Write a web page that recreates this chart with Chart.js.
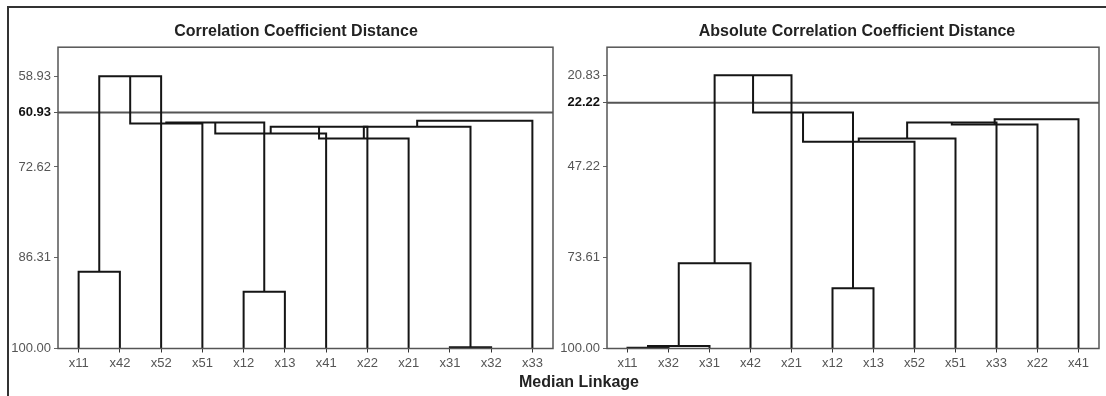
<!DOCTYPE html>
<html>
<head>
<meta charset="utf-8">
<script src="https://cdn.jsdelivr.net/npm/chart.js@4.4.0/dist/chart.umd.min.js"></script>
<style>
  html, body { margin: 0; padding: 0; background: #fff; overflow: hidden; }
  #wrap { position: relative; width: 1106px; height: 396px; overflow: hidden; }
  #frame { position: absolute; left: 7px; top: 6px; width: 1120px; height: 420px;
           border-left: 2px solid #333; border-top: 2px solid #333; }
  canvas { position: absolute; top: 8px; }
  #leftChart { left: 10px; }
  #rightChart { left: 556px; }
  #xTitle { position: absolute; left: 479px; width: 200px; top: 373px; text-align: center;
            font: bold 16px 'Liberation Sans', Arial, sans-serif; color: #222; }
</style>
</head>
<body>
<div id="wrap">
  <div id="frame"></div>
  <canvas id="leftChart" width="572" height="388"></canvas>
  <canvas id="rightChart" width="602" height="388"></canvas>
  <div id="xTitle">Median Linkage</div>
</div>
<script>
// leaf order along the x axis
const leftLeaves = ['x11', 'x42', 'x52', 'x51', 'x12', 'x13', 'x41', 'x22', 'x21', 'x31', 'x32', 'x33'];
const rightLeaves = ['x11', 'x32', 'x31', 'x42', 'x21', 'x12', 'x13', 'x52', 'x51', 'x33', 'x22', 'x41'];

// merges: [first, second, similarity]; a string is a leaf, a number is an earlier merge
const leftMerges = [
  ['x31', 'x32', 99.8],
  ['x11', 'x42', 88.42],
  ['x12', 'x13', 91.44],
  [1, 'x52', 58.93],
  [3, 'x51', 66.06],
  [4, 2, 65.91],
  [5, 'x41', 67.57],
  [6, 'x22', 66.57],
  [7, 'x21', 68.32],
  [8, 0, 66.54],
  [9, 'x33', 65.67]
];
const rightMerges = [
  ['x11', 'x32', 99.8],
  [0, 'x31', 99.3],
  [1, 'x42', 75.34],
  ['x12', 'x13', 82.57],
  [2, 'x21', 20.83],
  [4, 3, 31.63],
  [5, 'x52', 40.14],
  [6, 'x51', 39.15],
  [7, 'x33', 34.52],
  [8, 'x22', 35.10],
  [9, 'x41', 33.57]
];

// y tick labels
const leftTicks = [100, 86.31, 72.62, 58.93];
const rightTicks = [100, 73.61, 47.22, 20.83];

// cut lines: where the line sits on the scale and what it is labelled
const leftCut = { value: 64.40, label: '60.93' };
const rightCut = { value: 28.79, label: '22.22' };

Chart.defaults.font.family = "'Liberation Sans', Arial, sans-serif";

function treeLines(leaves, merges) {
  const nodes = [];
  const get = ref => typeof ref === 'string' ? { x: leaves.indexOf(ref), y: 100 } : nodes[ref];
  return merges.map(([a, b, h]) => {
    const p = get(a), q = get(b);
    nodes.push({ x: (p.x + q.x) / 2, y: h });
    return [{ x: p.x, y: p.y }, { x: p.x, y: h }, { x: q.x, y: h }, { x: q.x, y: q.y }];
  });
}

const plotFrame = {
  id: 'plotFrame',
  afterDatasetsDraw(chart) {
    const { ctx, chartArea: a } = chart;
    ctx.save();
    ctx.strokeStyle = '#555';
    ctx.lineWidth = 1.5;
    ctx.strokeRect(a.left, a.top, a.right - a.left, a.bottom - a.top);
    ctx.restore();
  }
};

function makeDendrogram(id, opts) {
  const lines = treeLines(opts.leaves, opts.merges).map(pts => ({
    data: pts, showLine: true, borderColor: '#151515', borderWidth: 2,
    pointRadius: 0, tension: 0, clip: false
  }));
  lines.push({
    data: [{ x: -0.5, y: opts.cut.value }, { x: opts.leaves.length - 0.5, y: opts.cut.value }],
    showLine: true, borderColor: '#555', borderWidth: 2, pointRadius: 0, clip: false
  });

  const isCut = c => c.tick && c.tick.value === opts.cut.value;

  return new Chart(document.getElementById(id), {
    type: 'scatter',
    data: { datasets: lines },
    plugins: [plotFrame],
    options: {
      responsive: false,
      animation: false,
      events: [],
      plugins: {
        legend: { display: false },
        tooltip: { enabled: false },
        title: {
          display: true, text: opts.title, color: '#222',
          font: { size: 16, weight: 'bold' }, padding: { top: 14, bottom: 6 }
        }
      },
      scales: {
        x: {
          type: 'linear', min: -0.5, max: opts.leaves.length - 0.5,
          afterBuildTicks: s => { s.ticks = opts.leaves.map((_, i) => ({ value: i })); },
          ticks: { callback: v => opts.leaves[v], color: '#555', font: { size: 13 }, padding: 3, autoSkip: false, maxRotation: 0 },
          grid: { drawOnChartArea: false, tickLength: 4, color: '#333' },
          border: { display: false },
          afterFit: s => { s.height = 47.5; }
        },
        y: {
          type: 'linear', reverse: true, min: opts.yTop, max: 100,
          afterBuildTicks: s => { s.ticks = opts.ticks.concat([opts.cut.value]).map(v => ({ value: v })); },
          ticks: {
            callback: v => v === opts.cut.value ? opts.cut.label : v.toFixed(2),
            color: c => isCut(c) ? '#111' : '#555',
            font: c => isCut(c) ? { size: 13, weight: 'bold' } : { size: 13 },
            padding: 3
          },
          grid: { drawOnChartArea: false, tickLength: 4, color: c => isCut(c) ? '#555' : '#666' },
          border: { display: false },
          afterFit: s => { s.width = opts.yWidth; }
        },
        side: {
          position: 'right', grid: { display: false }, border: { display: false },
          ticks: { display: false },
          afterFit: s => { s.width = opts.rightPad; }
        }
      }
    }
  });
}

makeDendrogram('leftChart', {
  title: 'Correlation Coefficient Distance',
  leaves: leftLeaves, merges: leftMerges, ticks: leftTicks, cut: leftCut,
  yTop: 54.56, yWidth: 48, rightPad: 29
});
makeDendrogram('rightChart', {
  title: 'Absolute Correlation Coefficient Distance',
  leaves: rightLeaves, merges: rightMerges, ticks: rightTicks, cut: rightCut,
  yTop: 12.72, yWidth: 51, rightPad: 59
});
</script>
</body>
</html>
